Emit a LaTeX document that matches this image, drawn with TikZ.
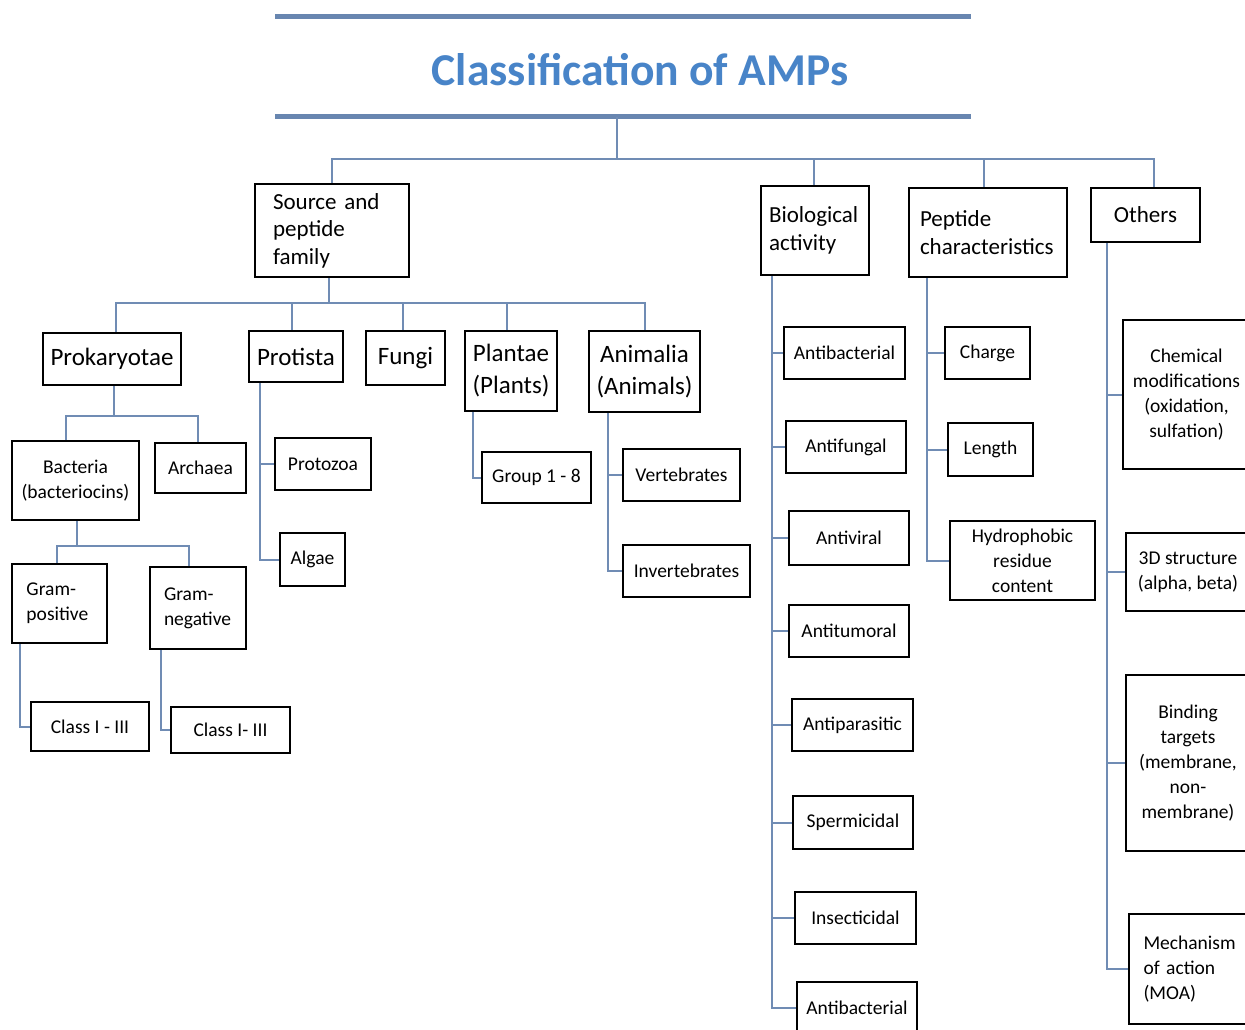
\documentclass[tikz,border=0pt]{standalone}
\usepackage{fontspec}
\setmainfont{Carlito}
\usepackage{xcolor}
\usepackage{tikz}
\usetikzlibrary{positioning}

\definecolor{titleblue}{RGB}{72,132,200}
\definecolor{rulecol}{RGB}{104,134,176}
\definecolor{linkcol}{RGB}{112,140,180}

\begin{document}
\begin{tikzpicture}[
    x=1pt, y=-1pt,
    rulebar/.style={
        draw=rulecol,
        line width=5pt
    },
    link/.style={
        draw=linkcol,
        line width=2pt
    },
    headbox/.style={
        rectangle,
        draw=black,
        line width=2.3pt,
        align=left,
        inner sep=4pt,
        font=\fontsize{23}{27.5}\selectfont
    },
    kingbox/.style={
        rectangle,
        draw=black,
        line width=2.3pt,
        align=center,
        inner sep=4pt,
        font=\fontsize{25}{32}\selectfont
    },
    leaf/.style={
        rectangle,
        draw=black,
        line width=2.3pt,
        align=center,
        inner sep=4pt,
        font=\fontsize{19.5}{25}\selectfont
    },
    titletext/.style={
        font=\fontsize{45.6}{50}\selectfont\bfseries,
        text=titleblue
    }
]
\useasboundingbox (0,0) rectangle (1245,1030);

% title between two rules
\node[titletext] (title) at (640,70) {Classification of AMPs};
\draw[rulebar] (275,17) -- (971,17);
\draw[rulebar] (275,117) -- (971,117);
\coordinate (rulemid) at (617,117);

% first level
\node[headbox, minimum width=154pt, minimum height=93pt, text width=118pt] (source) at (332,230.5) {Source and\\peptide\\family};
\node[headbox, minimum width=108pt, minimum height=89pt, text width=92pt] (bio) at (815,230.5) {Biological\\activity};
\node[headbox, minimum width=158pt, minimum height=89pt, text width=136pt] (pep) at (988,232.5) {Peptide\\characteristics};
\node[headbox, minimum width=109pt, minimum height=54pt, align=center] (others) at (1145.5,215) {Others};

% source and peptide family
\node[kingbox, minimum width=138pt, minimum height=52pt] (prok) at (112,359) {Prokaryotae};
\node[kingbox, minimum width=94pt, minimum height=51pt] (protis) at (296,356.5) {Protista};
\node[kingbox, minimum width=79pt, minimum height=54pt] (fungi) at (405.5,358) {Fungi};
\node[kingbox, minimum width=92pt, minimum height=80pt] (plant) at (511,371) {Plantae\\(Plants)};
\node[kingbox, minimum width=111pt, minimum height=81pt] (anim) at (644.5,371.5) {Animalia\\(Animals)};

\node[leaf, minimum width=127pt, minimum height=79pt] (bact) at (75.5,480.5) {Bacteria\\(bacteriocins)};
\node[leaf, minimum width=91pt, minimum height=50pt] (archaea) at (200.5,468) {Archaea};
\node[leaf, minimum width=95pt, minimum height=79pt, text width=66pt, align=left] (grampos) at (59.5,603.5) {Gram-\\positive};
\node[leaf, minimum width=96pt, minimum height=82pt, text width=68pt, align=left] (gramneg) at (198,608) {Gram-\\negative};
\node[leaf, minimum width=118pt, minimum height=49pt] (classpos) at (90,726.5) {Class I - III};
\node[leaf, minimum width=119pt, minimum height=46pt] (classneg) at (230.5,730) {Class I- III};

\node[leaf, minimum width=96pt, minimum height=52pt] (protozoa) at (323,464) {Protozoa};
\node[leaf, minimum width=65pt, minimum height=53pt] (algae) at (312.5,559.5) {Algae};
\node[leaf, minimum width=109pt, minimum height=51pt] (groups) at (536.5,477.5) {Group 1 - 8};
\node[leaf, minimum width=117pt, minimum height=52pt] (vert) at (681.5,475) {Vertebrates};
\node[leaf, minimum width=127pt, minimum height=52pt] (invert) at (686.5,571) {Invertebrates};

% biological activity
\node[leaf, minimum width=121pt, minimum height=52pt] (antibac) at (844.5,353) {Antibacterial};
\node[leaf, minimum width=120pt, minimum height=52pt] (antifung) at (846,447) {Antifungal};
\node[leaf, minimum width=120pt, minimum height=54pt] (antivir) at (849,538) {Antiviral};
\node[leaf, minimum width=120pt, minimum height=52pt] (antitum) at (849,631) {Antitumoral};
\node[leaf, minimum width=121pt, minimum height=52pt] (antipar) at (852.5,725) {Antiparasitic};
\node[leaf, minimum width=120pt, minimum height=53pt] (sperm) at (853,822.5) {Spermicidal};
\node[leaf, minimum width=121pt, minimum height=52pt] (insect) at (855.5,918) {Insecticidal};
\node[leaf, minimum width=120pt, minimum height=52pt] (antibacb) at (857,1008) {Antibacterial};

% peptide characteristics
\node[leaf, minimum width=85pt, minimum height=52pt] (charge) at (987.5,353) {Charge};
\node[leaf, minimum width=85pt, minimum height=53pt] (length) at (990.5,449.5) {Length};
\node[leaf, minimum width=145pt, minimum height=79pt] (hydro) at (1022.5,560.5) {Hydrophobic\\residue\\content};

% others
\node[leaf, minimum width=127pt, minimum height=149pt] (chem) at (1186.5,394.5) {Chemical\\modifications\\(oxidation,\\sulfation)};
\node[leaf, minimum width=124pt, minimum height=78pt] (struct) at (1188,572) {3D structure\\(alpha, beta)};
\node[leaf, minimum width=124pt, minimum height=176pt] (binding) at (1188,763) {Binding\\targets\\(membrane,\\non-\\membrane)};
\node[leaf, minimum width=121pt, minimum height=110pt, text width=92pt, align=left] (moa) at (1189.5,969) {Mechanism\\of action\\(MOA)};

% top tree
\draw[link] (rulemid) -- ++(0,42) coordinate (hub);
\draw[link] (source.north) |- (hub) -| ([xshift=8.5pt]others.north);
\draw[link] ([xshift=-1pt]bio.north) -- ([xshift=-1pt]bio.north |- hub);
\draw[link] ([xshift=-4pt]pep.north) -- ([xshift=-4pt]pep.north |- hub);

% source branches
\draw[link] ([xshift=-3pt]source.south) -- ++(0,25) coordinate (srchub);
\draw[link] ([xshift=4pt]prok.north) |- (srchub) -| (anim.north);
\draw[link] ([xshift=-4pt]protis.north) -- ([xshift=-4pt]protis.north |- srchub);
\draw[link] ([xshift=-2.5pt]fungi.north) -- ([xshift=-2.5pt]fungi.north |- srchub);
\draw[link] ([xshift=-4pt]plant.north) -- ([xshift=-4pt]plant.north |- srchub);

\draw[link] ([xshift=2pt]prok.south) -- ++(0,30) coordinate (prokhub);
\draw[link] ([xshift=-9.5pt]bact.north) |- (prokhub) -| ([xshift=-2.5pt]archaea.north);
\draw[link] ([xshift=1.5pt]bact.south) -- ++(0,25) coordinate (bacthub);
\draw[link] ([xshift=-2.5pt]grampos.north) |- (bacthub) -| ([xshift=-9pt]gramneg.north);
\draw[link] ([xshift=-39.5pt]grampos.south) |- (classpos.west);
\draw[link] ([xshift=-37pt]gramneg.south) |- (classneg.west);

\draw[link] ([xshift=-36pt]protis.south) |- (protozoa.west);
\draw[link] ([xshift=-36pt]protis.south) |- (algae.west);
\draw[link] ([xshift=-38pt]plant.south) |- (groups.west);
\draw[link] ([xshift=-36.5pt]anim.south) |- (vert.west);
\draw[link] ([xshift=-36.5pt]anim.south) |- (invert.west);

% biological activity branches
\foreach \leafname in {antibac,antifung,antivir,antitum,antipar,sperm,insect,antibacb}
    \draw[link] ([xshift=-43pt]bio.south) |- (\leafname.west);

% peptide characteristics branches
\foreach \leafname in {charge,length,hydro}
    \draw[link] ([xshift=-61pt]pep.south) |- (\leafname.west);

% others branches
\foreach \leafname in {chem,struct,binding,moa}
    \draw[link] ([xshift=-38.5pt]others.south) |- (\leafname.west);

\end{tikzpicture}
\end{document}
